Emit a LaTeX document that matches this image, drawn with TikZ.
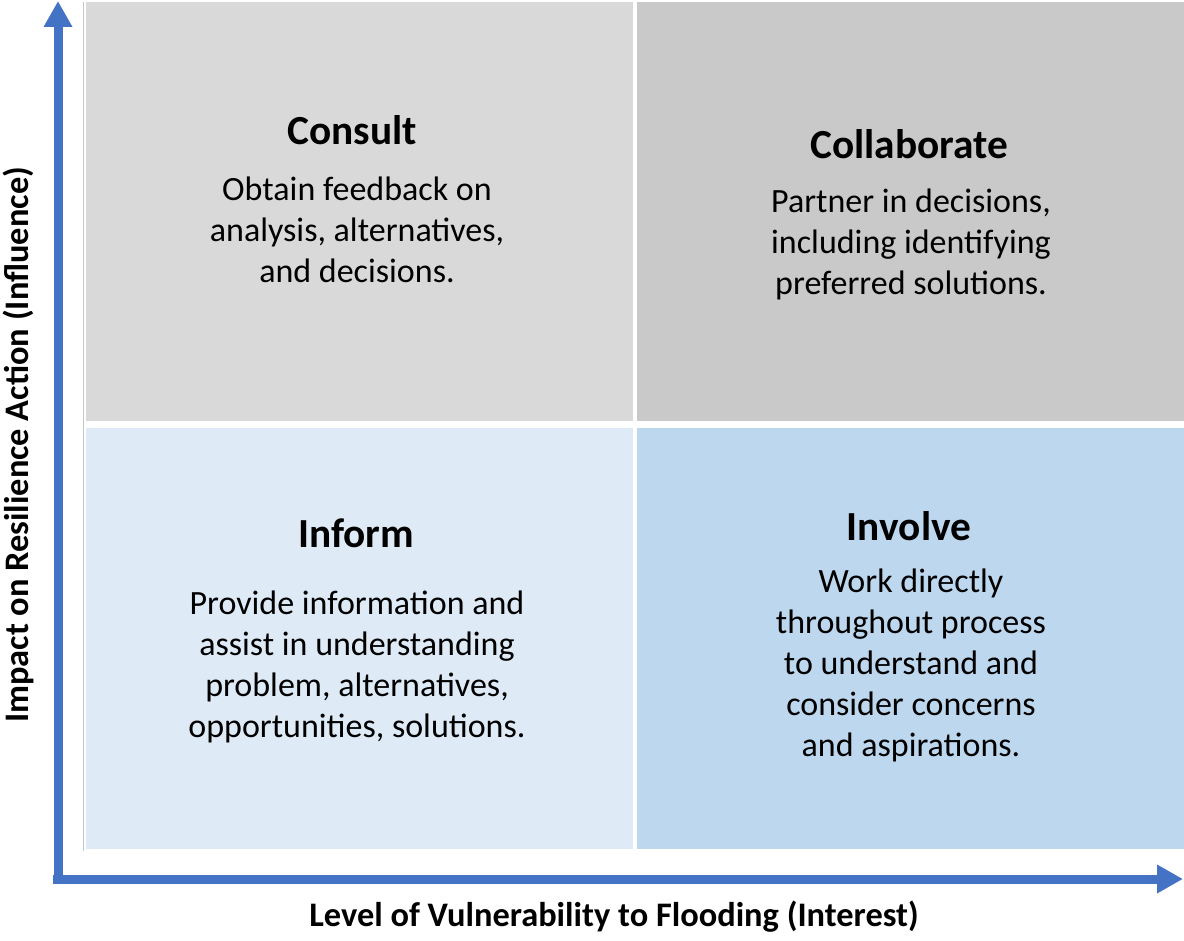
\documentclass[tikz,border=0pt]{standalone}
\usepackage{fontspec}
\setmainfont{Carlito}
\usetikzlibrary{arrows.meta}

\definecolor{axisblue}{HTML}{4472C4}
\definecolor{consultgray}{HTML}{D9D9D9}
\definecolor{collabgray}{HTML}{C9C9C9}
\definecolor{informblue}{HTML}{DEEBF7}
\definecolor{involveblue}{HTML}{BDD7EE}

\begin{document}
\begin{tikzpicture}[x=0.75pt,y=-0.75pt,
    title/.style={font=\fontsize{31}{37}\selectfont\bfseries},
    body/.style={align=center,font=\fontsize{25.5}{30.75}\selectfont},
    axislabel/.style={font=\fontsize{25.8}{30}\selectfont\bfseries},
    axis/.style={axisblue,line width=6.75pt,-{Triangle[width=20.25pt,length=19.5pt]}}]
  \useasboundingbox (0,0) rectangle (1184,941);

  % the four quadrants
  \fill[consultgray] (86,2) rectangle (633,421);
  \fill[collabgray] (637,2) rectangle (1184,421);
  \fill[informblue] (86,428) rectangle (633,849);
  \fill[involveblue] (637,428) rectangle (1184,849);
  \draw[black!22,line width=0.75pt] (83,2) -- (83,851);

  % quadrant texts
  \node[title] (consult) at (352,130) {Consult};
  \node[body] (consultText) at (357,230) {Obtain feedback on\\analysis, alternatives,\\and decisions.};

  \node[title] (collaborate) at (909,144) {Collaborate};
  \node[body] (collaborateText) at (911,244) {Partner in decisions,\\including identifying\\preferred solutions.};

  \node[title] (inform) at (356,533) {Inform};
  \node[body] (informText) at (357,667) {Provide information and\\assist in understanding\\problem, alternatives,\\opportunities, solutions.};

  \node[title] (involve) at (909,526) {Involve};
  \node[body] (involveText) at (911,665) {Work directly\\throughout process\\to understand and\\consider concerns\\and aspirations.};

  % axes
  \coordinate (origin) at (58,879);
  \coordinate (ytip) at (58,1);
  \coordinate (xtip) at (1183,879);
  \draw[axis] ([yshift=-3.4pt]origin) -- (ytip);
  \draw[axis] ([xshift=-3.4pt]origin) -- (xtip);

  \node[axislabel,rotate=90] (ylabel) at (18,445) {Impact on Resilience Action (Influence)};
  \node[axislabel] (xlabel) at (614,917) {Level of Vulnerability to Flooding (Interest)};
\end{tikzpicture}
\end{document}
